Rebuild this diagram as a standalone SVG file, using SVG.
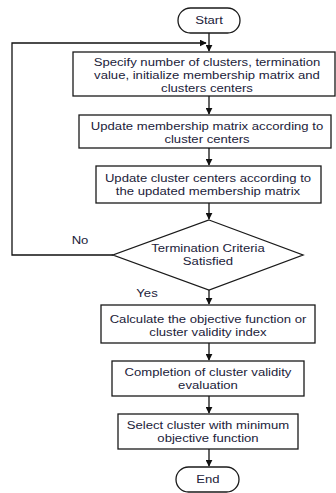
<svg xmlns="http://www.w3.org/2000/svg" width="336" height="493" viewBox="0 0 336 493">
<style>
.box{fill:#fff;stroke:#1a1a1a;stroke-width:1.3}
.t{font-family:"Liberation Sans",Arial,sans-serif;font-size:11.5px;fill:#22223a;text-anchor:middle}
.c{fill:none;stroke:#111;stroke-width:1.3}
</style>
<defs>
<marker id="ah" viewBox="0 0 10 10" refX="9" refY="5" markerWidth="7" markerHeight="7" markerUnits="userSpaceOnUse" orient="auto">
<path d="M0,0 L10,5 L0,10 z" fill="#111"/>
</marker>
</defs>
<rect width="336" height="493" fill="#fff"/>
<g id="connectors">
<path class="c" d="M209,33 V51" marker-end="url(#ah)"/>
<path class="c" d="M113,255 H12 V43 H206" marker-end="url(#ah)"/>
<path class="c" d="M209,96 V114" marker-end="url(#ah)"/>
<path class="c" d="M209,148 V165" marker-end="url(#ah)"/>
<path class="c" d="M209,203 V219" marker-end="url(#ah)"/>
<path class="c" d="M209,290 V304" marker-end="url(#ah)"/>
<path class="c" d="M209,343 V360" marker-end="url(#ah)"/>
<path class="c" d="M209,396 V413" marker-end="url(#ah)"/>
<path class="c" d="M209,449 V466" marker-end="url(#ah)"/>
<g transform="translate(80,0) scale(1.14,1)"><text class="t" x="0" y="244">No</text></g>
<g transform="translate(147,0) scale(1.14,1)"><text class="t" x="0" y="297">Yes</text></g>
</g>
<g id="start">
<rect class="box" x="178" y="8" width="62" height="25" rx="12.5"/>
<g transform="translate(209,0) scale(1.14,1)"><text class="t" x="0" y="24.5">Start</text></g>
</g>
<g id="init">
<rect class="box" x="73" y="52" width="262" height="44"/>
<g transform="translate(207,0) scale(1.14,1)">
<text class="t" x="0" y="66">Specify number of clusters, termination</text>
<text class="t" x="0" y="79">value, initialize membership matrix and</text>
<text class="t" x="0" y="92">clusters centers</text>
</g>
</g>
<g id="update-membership">
<rect class="box" x="79" y="115" width="252" height="33"/>
<g transform="translate(207,0) scale(1.14,1)">
<text class="t" x="0" y="130.5">Update membership matrix according to</text>
<text class="t" x="0" y="143.5">cluster centers</text>
</g>
</g>
<g id="update-centers">
<rect class="box" x="96" y="166" width="225" height="37"/>
<g transform="translate(208,0) scale(1.14,1)">
<text class="t" x="0" y="182">Update cluster centers according to</text>
<text class="t" x="0" y="195">the updated membership matrix</text>
</g>
</g>
<g id="termination">
<polygon class="box" points="209,220 303,255 209,290 113,255"/>
<g transform="translate(208,0) scale(1.14,1)">
<text class="t" x="0" y="252">Termination Criteria</text>
<text class="t" x="0" y="265">Satisfied</text>
</g>
</g>
<g id="objective">
<rect class="box" x="101" y="305" width="214" height="38"/>
<g transform="translate(208,0) scale(1.14,1)">
<text class="t" x="0" y="323">Calculate the objective function or</text>
<text class="t" x="0" y="336">cluster validity index</text>
</g>
</g>
<g id="completion">
<rect class="box" x="112" y="361" width="192" height="35"/>
<g transform="translate(208,0) scale(1.14,1)">
<text class="t" x="0" y="376">Completion of cluster validity</text>
<text class="t" x="0" y="389">evaluation</text>
</g>
</g>
<g id="select">
<rect class="box" x="118" y="414" width="180" height="35"/>
<g transform="translate(208,0) scale(1.14,1)">
<text class="t" x="0" y="429">Select cluster with minimum</text>
<text class="t" x="0" y="442">objective function</text>
</g>
</g>
<g id="end">
<rect class="box" x="176" y="467" width="63" height="25" rx="12.5"/>
<g transform="translate(208,0) scale(1.14,1)"><text class="t" x="0" y="483.5">End</text></g>
</g>
</svg>
